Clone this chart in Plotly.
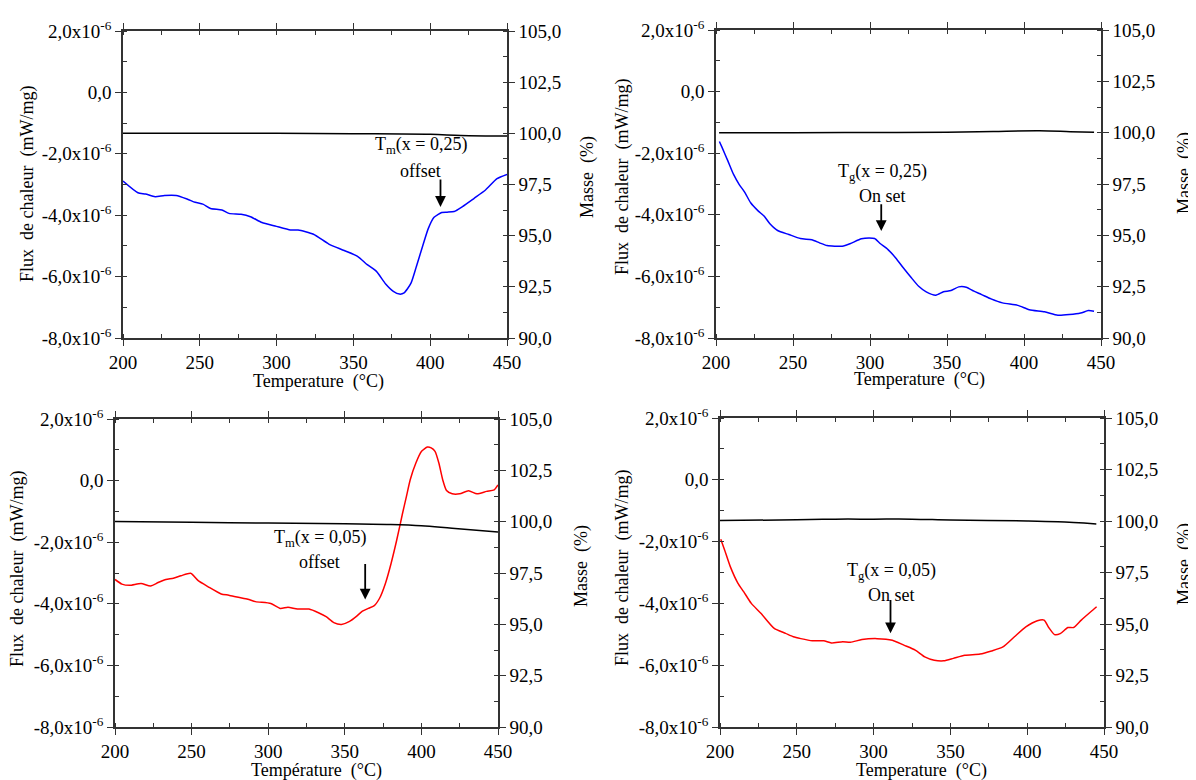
import plotly.graph_objects as go

# ---------------- data ----------------
# Panel A (top-left): x = 0.25, Tm
t_a = [200, 209.7, 214.7, 220.9, 227, 234.6, 242, 247, 252, 257, 264.4, 269, 276.9, 283, 290.5, 299,
       309, 314, 324, 334, 344, 352.7, 359, 365, 371, 376, 380, 383, 387.5, 391, 395, 398.8, 402.5,
       407.5, 411, 415.6, 421, 428.6, 436, 443.5, 450]
flux_a = [-2.89, -3.27, -3.31, -3.40, -3.36, -3.36, -3.48, -3.58, -3.64, -3.78, -3.83, -3.94, -3.97, -4.05,
          -4.24, -4.35, -4.48, -4.48, -4.62, -4.94, -5.15, -5.34, -5.61, -5.83, -6.24, -6.48, -6.57, -6.53,
          -6.21, -5.67, -5.02, -4.43, -4.07, -3.91, -3.90, -3.88, -3.72, -3.45, -3.18, -2.81, -2.67]
mt_a = [200, 250, 300, 350, 400, 420, 450]
mass_a = [100.0, 100.0, 100.0, 99.98, 99.95, 99.9, 99.87]

# Panel B (top-right): x = 0.25, Tg
t_b = [202.2, 204, 207.7, 211.4, 215, 218.8, 222.5, 227.5, 231.2, 235, 240, 247.3, 254.8, 262.2, 267.2,
       272.1, 282, 287, 294.4, 299.4, 303, 306.8, 311.7, 316.7, 321.6, 326.6, 331.6, 336.5, 342.7, 347.7,
       352.6, 357.6, 362.5, 367.5, 372.5, 378.6, 386, 396, 403.4, 413.3, 422, 429.4, 436.8, 441.8, 445.5]
flux_b = [-1.62, -1.82, -2.25, -2.69, -3.01, -3.28, -3.61, -3.88, -4.04, -4.29, -4.51, -4.64, -4.77, -4.81,
          -4.91, -5.00, -5.02, -4.94, -4.78, -4.75, -4.77, -4.94, -5.13, -5.40, -5.72, -6.03, -6.32, -6.50,
          -6.61, -6.50, -6.46, -6.34, -6.35, -6.48, -6.59, -6.73, -6.86, -6.94, -7.08, -7.15, -7.26, -7.24,
          -7.19, -7.11, -7.13]
mt_b = [202, 250, 300, 350, 380, 410, 430, 445.5]
mass_b = [99.99, 100.0, 100.01, 100.02, 100.06, 100.09, 100.05, 100.02]

# Panel C (bottom-left): x = 0.05, Tm
t_c = [200, 204.5, 209.5, 217, 223.2, 228.2, 233.2, 238.1, 243.1, 249.4, 254.3, 260.6, 269.3, 274.3, 280.5,
       286.7, 291.7, 301.7, 307.9, 312.9, 319.1, 326.6, 332.8, 337.8, 342.8, 347.8, 352.8, 357.8, 361.5,
       365.3, 369, 372.7, 376.5, 380.2, 383.9, 387.7, 390.2, 392.7, 396.4, 400.1, 403.9, 406.4, 408.9,
       411.4, 413.9, 416.4, 420.1, 425, 430.8, 436.3, 442.5, 447.5, 450]
flux_c = [-3.21, -3.36, -3.40, -3.34, -3.42, -3.31, -3.21, -3.17, -3.09, -3.01, -3.25, -3.44, -3.68, -3.72,
          -3.79, -3.85, -3.93, -3.99, -4.15, -4.11, -4.17, -4.17, -4.29, -4.42, -4.61, -4.67, -4.58, -4.40,
          -4.24, -4.15, -4.07, -3.82, -3.34, -2.69, -1.93, -1.06, -0.52, 0.03, 0.57, 0.95, 1.09, 1.06, 0.95,
          0.57, 0.03, -0.32, -0.43, -0.43, -0.33, -0.43, -0.35, -0.30, -0.14]
mt_c = [200, 250, 300, 350, 380, 400, 420, 450]
mass_c = [100.01, 99.97, 99.93, 99.9, 99.86, 99.8, 99.68, 99.5]

# Panel D (bottom-right): x = 0.05, Tg
t_d = [200.5, 203, 206.7, 211.7, 215.4, 220.4, 226.6, 235.3, 242.7, 247.7, 252.6, 260.1, 267.5, 272.5,
       279.9, 284.9, 292.4, 302.3, 312.2, 319.7, 327.1, 333.3, 339.5, 345.7, 351.9, 359.4, 369.3, 376.8,
       384.2, 391.7, 399.1, 406.6, 411, 414, 417.8, 421.5, 426.5, 430.2, 435.2, 441.4, 445.2]
flux_d = [-1.92, -2.27, -2.81, -3.35, -3.62, -4.00, -4.32, -4.81, -4.97, -5.08, -5.14, -5.21, -5.21, -5.28,
          -5.24, -5.26, -5.17, -5.14, -5.19, -5.35, -5.51, -5.73, -5.84, -5.86, -5.78, -5.68, -5.64, -5.54,
          -5.41, -5.08, -4.76, -4.56, -4.54, -4.78, -5.01, -4.98, -4.78, -4.78, -4.54, -4.27, -4.11]
mt_d = [200, 250, 275, 300, 325, 350, 400, 420, 445]
mass_d = [100.02, 100.06, 100.09, 100.09, 100.09, 100.05, 100.0, 99.96, 99.86]

flux_ticks = [-8, -6, -4, -2, 0, 2]
flux_labels = ["-8,0x10<sup>-6</sup>", "-6,0x10<sup>-6</sup>", "-4,0x10<sup>-6</sup>",
               "-2,0x10<sup>-6</sup>", "0,0", "2,0x10<sup>-6</sup>"]
mass_ticks = [90, 92.5, 95, 97.5, 100, 102.5, 105]
mass_labels = ["90,0", "92,5", "95,0", "97,5", "100,0", "102,5", "105,0"]
temp_ticks = [200, 250, 300, 350, 400, 450]

# ---------------- layout ----------------
# The page body has an 8px margin: size the figure so that it fills the window after that offset.
OFF = 8
W, H = 1196 - OFF, 780 - OFF
FONT = "Liberation Serif, Times New Roman, serif"
TICKFS = 19
TITLEFS = 18


def px(x):
    return (x - OFF) / W


def py(y):
    return 1 - (y - OFF) / H


panels = [
    dict(t=t_a, f=flux_a, mt=mt_a, m=mass_a, c="#0000FF", x=(123, 507), y=(31, 338),
         xt="Temperature  (°C)", xtp=(318, 382), ltp=(27, 184), rtp=(587, 177),
         l1="T<sub>m</sub>(x = 0,25)", l2="offset", ax=394, ay1=-1.74, ay2=-2.55, arx=406.7, ar=(-2.79, -3.73)),
    dict(t=t_b, f=flux_b, mt=mt_b, m=mass_b, c="#0000FF", x=(716, 1101), y=(30, 338),
         xt="Temperature  (°C)", xtp=(920, 380), ltp=(622, 177), rtp=(1184, 173),
         l1="T<sub>g</sub>(x = 0,25)", l2="On set", ax=308, ay1=-2.63, ay2=-3.39, arx=307.3, ar=(-3.61, -4.53)),
    dict(t=t_c, f=flux_c, mt=mt_c, m=mass_c, c="#FF0000", x=(115, 498), y=(419, 727),
         xt="Température  (°C)", xtp=(316, 770), ltp=(17, 569), rtp=(581, 566),
         l1="T<sub>m</sub>(x = 0,05)", l2="offset", ax=333.6, ay1=-1.87, ay2=-2.65, arx=363.3, ar=(-2.66, -3.86)),
    dict(t=t_d, f=flux_d, mt=mt_d, m=mass_d, c="#FF0000", x=(720, 1104), y=(418, 727),
         xt="Temperature  (°C)", xtp=(921, 770), ltp=(622, 568), rtp=(1184, 564),
         l1="T<sub>g</sub>(x = 0,05)", l2="On set", ax=311.7, ay1=-2.97, ay2=-3.73, arx=311, ar=(-3.84, -4.97)),
]

fig = go.Figure()
annotations = []
layout = dict(width=W, height=H, margin=dict(l=0, r=0, t=0, b=0, autoexpand=False), paper_bgcolor="white",
              plot_bgcolor="white", showlegend=False, font=dict(family=FONT, size=TICKFS, color="black"))

AXCOL = "#333333"
for i, p in enumerate(panels):
    xi = i + 1
    yl = 2 * i + 1
    yr = 2 * i + 2
    xname = "x" if xi == 1 else f"x{xi}"
    ylname = "y" if yl == 1 else f"y{yl}"
    yrname = f"y{yr}"
    xdom = [px(p["x"][0]), px(p["x"][1])]
    ydom = [py(p["y"][1]), py(p["y"][0])]

    layout["xaxis" if xi == 1 else f"xaxis{xi}"] = dict(
        domain=xdom, anchor=ylname, range=[200, 450], tickvals=temp_ticks, automargin=False,
        showline=True, linecolor=AXCOL, linewidth=1.5, mirror="ticks", ticks="outside", ticklen=6,
        tickcolor=AXCOL, tickwidth=1.2, showgrid=False, zeroline=False,
        minor=dict(dtick=25, tick0=200, ticks="inside", ticklen=4, tickcolor=AXCOL, showgrid=False),
        tickfont=dict(family=FONT, size=TICKFS))
    layout["yaxis" if yl == 1 else f"yaxis{yl}"] = dict(
        domain=ydom, anchor=xname, range=[-8, 2], tickvals=flux_ticks, ticktext=flux_labels, automargin=False,
        showline=True, linecolor=AXCOL, linewidth=1.5, ticks="outside", ticklen=6,
        tickcolor=AXCOL, tickwidth=1.2, showgrid=False, zeroline=False,
        minor=dict(dtick=1, tick0=0, ticks="inside", ticklen=4, tickcolor=AXCOL, showgrid=False),
        tickfont=dict(family=FONT, size=TICKFS))
    layout[f"yaxis{yr}"] = dict(
        domain=ydom, anchor=xname, overlaying=ylname, side="right", range=[90, 105], automargin=False,
        tickvals=mass_ticks, ticktext=mass_labels,
        showline=True, linecolor=AXCOL, linewidth=1.5, ticks="outside", ticklen=6,
        tickcolor=AXCOL, tickwidth=1.2, showgrid=False, zeroline=False,
        minor=dict(dtick=1.25, tick0=90, ticks="inside", ticklen=4, tickcolor=AXCOL, showgrid=False),
        tickfont=dict(family=FONT, size=TICKFS))

    fig.add_trace(go.Scatter(x=p["t"], y=p["f"], mode="lines",
                             line=dict(color=p["c"], width=1.5, shape="spline", smoothing=0.6),
                             xaxis=xname, yaxis=ylname, hoverinfo="skip"))
    fig.add_trace(go.Scatter(x=p["mt"], y=p["m"], mode="lines", line=dict(color="black", width=1.5, shape="spline"),
                             xaxis=xname, yaxis=yrname, hoverinfo="skip"))

    annotations.append(dict(text=p["xt"], x=px(p["xtp"][0]), y=py(p["xtp"][1]), xref="paper", yref="paper",
                            showarrow=False, xanchor="center", yanchor="middle", font=dict(family=FONT, size=TITLEFS)))
    annotations.append(dict(text="Flux  de chaleur  (mW/mg)", x=px(p["ltp"][0]), y=py(p["ltp"][1]),
                            xref="paper", yref="paper", textangle=-90, showarrow=False,
                            xanchor="center", yanchor="middle", font=dict(family=FONT, size=TITLEFS)))
    annotations.append(dict(text="Masse  (%)", x=px(p["rtp"][0]), y=py(p["rtp"][1]),
                            xref="paper", yref="paper", textangle=-90, showarrow=False,
                            xanchor="center", yanchor="middle", font=dict(family=FONT, size=TITLEFS)))
    annotations.append(dict(text=p["l1"], x=p["ax"], y=p["ay1"], xref=xname, yref=ylname, showarrow=False,
                            xanchor="center", yanchor="middle", font=dict(family=FONT, size=TITLEFS)))
    annotations.append(dict(text=p["l2"], x=p["ax"], y=p["ay2"], xref=xname, yref=ylname, showarrow=False,
                            xanchor="center", yanchor="middle", font=dict(family=FONT, size=TITLEFS)))
    annotations.append(dict(text="", x=p["arx"], y=p["ar"][1], ax=p["arx"], ay=p["ar"][0],
                            xref=xname, yref=ylname, axref=xname, ayref=ylname, showarrow=True,
                            arrowhead=2, arrowsize=1.2, arrowwidth=1.8, arrowcolor="black"))

layout["annotations"] = annotations
fig.update_layout(**layout)
fig.write_html("out.html")
